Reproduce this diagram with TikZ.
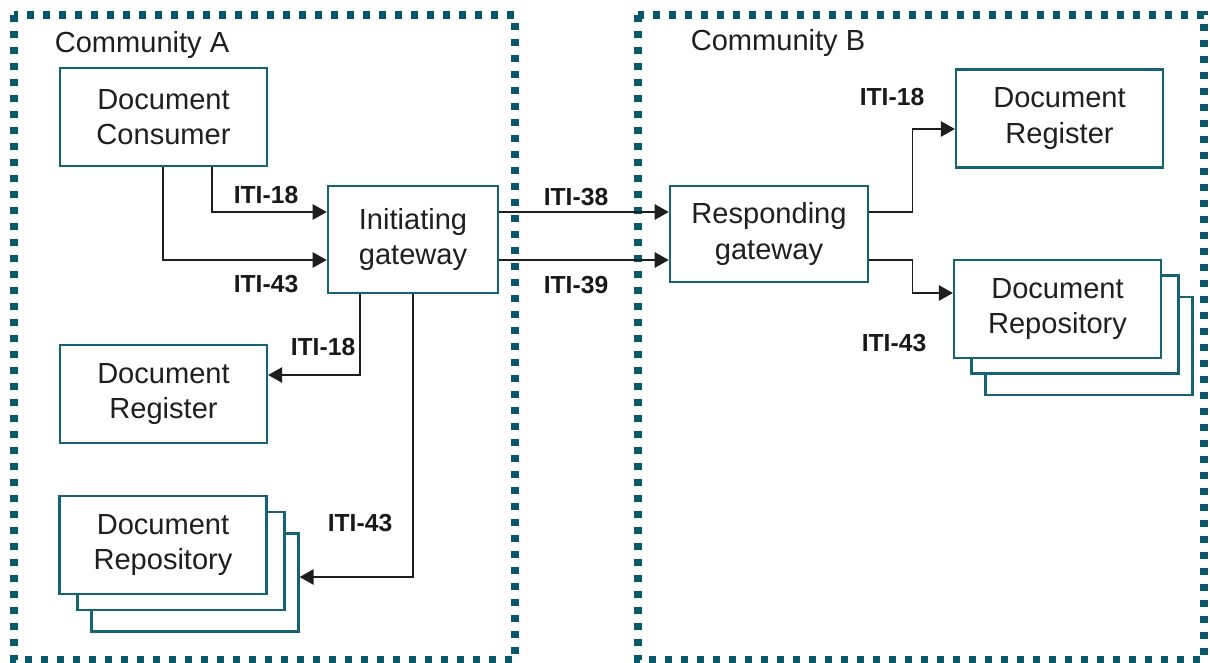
\documentclass[tikz,border=0pt]{standalone}
\usepackage{fontspec}
\setmainfont{Liberation Sans}
\usetikzlibrary{arrows.meta}
\definecolor{commteal}{RGB}{8,88,106}
\definecolor{boxteal}{RGB}{22,100,115}
\definecolor{wiregray}{RGB}{30,30,30}

\begin{document}
\begin{tikzpicture}[x=0.75pt,y=-0.75pt,
    community/.style={draw=commteal,line width=5.5pt,dash pattern=on 5.5pt off 6.5pt},
    actor/.style={draw=boxteal,line width=1.9pt,fill=white,align=center,inner sep=0pt,
      minimum width=155pt,minimum height=73.5pt,text=black!88,
      font=\fontsize{21.8}{26.5}\selectfont},
    tx/.style={font=\bfseries\fontsize{18.5}{20}\selectfont,text=black!90},
    wire/.style={draw=wiregray,line width=1.1pt,-{Triangle[length=10.5pt,width=11.5pt]}}]
    \useasboundingbox (0,0) rectangle (1210,663);
    \draw[community] (14,15) rectangle (515,660);
    \draw[community] (638,15) rectangle (1204,660);
    \node[font=\fontsize{21.8}{26}\selectfont,text=black!88] (commA) at (142,45) {Community A};
    \node[font=\fontsize{21.8}{26}\selectfont,text=black!88] (commB) at (778,43) {Community B};

    \node[actor] (cons) at (163.5,117) {Document\\Consumer};
    \node[actor,minimum width=127.5pt,minimum height=80pt] (initgw) at (413,239.5) {Initiating\\gateway};
    \node[actor] (regA) at (163.5,394) {Document\\Register};
    \node[actor] (repoA3) at (195,582.5) {};
    \node[actor] (repoA2) at (181,561) {};
    \node[actor] (repoA) at (163,545) {Document\\Repository};

    \node[actor,minimum width=148.5pt,minimum height=72pt] (respgw) at (769,234) {Responding\\gateway};
    \node[actor] (regB) at (1059.5,118.5) {Document\\Register};
    \node[actor] (repoB3) at (1089,346) {};
    \node[actor] (repoB2) at (1075,324.5) {};
    \node[actor] (repoB) at (1057.5,309) {Document\\Repository};

    \draw[wire] (cons.south -| 212,0) |- (initgw.west |- 0,212);
    \draw[wire] (cons.south -| 163,0) |- (initgw.west |- 0,260);
    \draw[wire] (initgw.south -| 360,0) |- (regA.east |- 0,375);
    \draw[wire] (initgw.south -| 413,0) |- (repoA3.east |- 0,577);
    \draw[wire] (initgw.east |- 0,212) -- (respgw.west |- 0,212);
    \draw[wire] (initgw.east |- 0,260) -- (respgw.west |- 0,260);
    \draw[wire] (respgw.east |- 0,212) -- ++(43,0) |- (regB.west |- 0,129);
    \draw[wire] (respgw.east |- 0,260) -- ++(43,0) |- (repoB.west |- 0,293);

    \node[tx] (t18a) at (266,195) {ITI-18};
    \node[tx] (t43a) at (266,284) {ITI-43};
    \node[tx] (t18b) at (323,347) {ITI-18};
    \node[tx] (t43b) at (360,523) {ITI-43};
    \node[tx] (t38) at (576,197) {ITI-38};
    \node[tx] (t39) at (576,285) {ITI-39};
    \node[tx] (t18c) at (892,97) {ITI-18};
    \node[tx] (t43c) at (894,343) {ITI-43};
\end{tikzpicture}
\end{document}
